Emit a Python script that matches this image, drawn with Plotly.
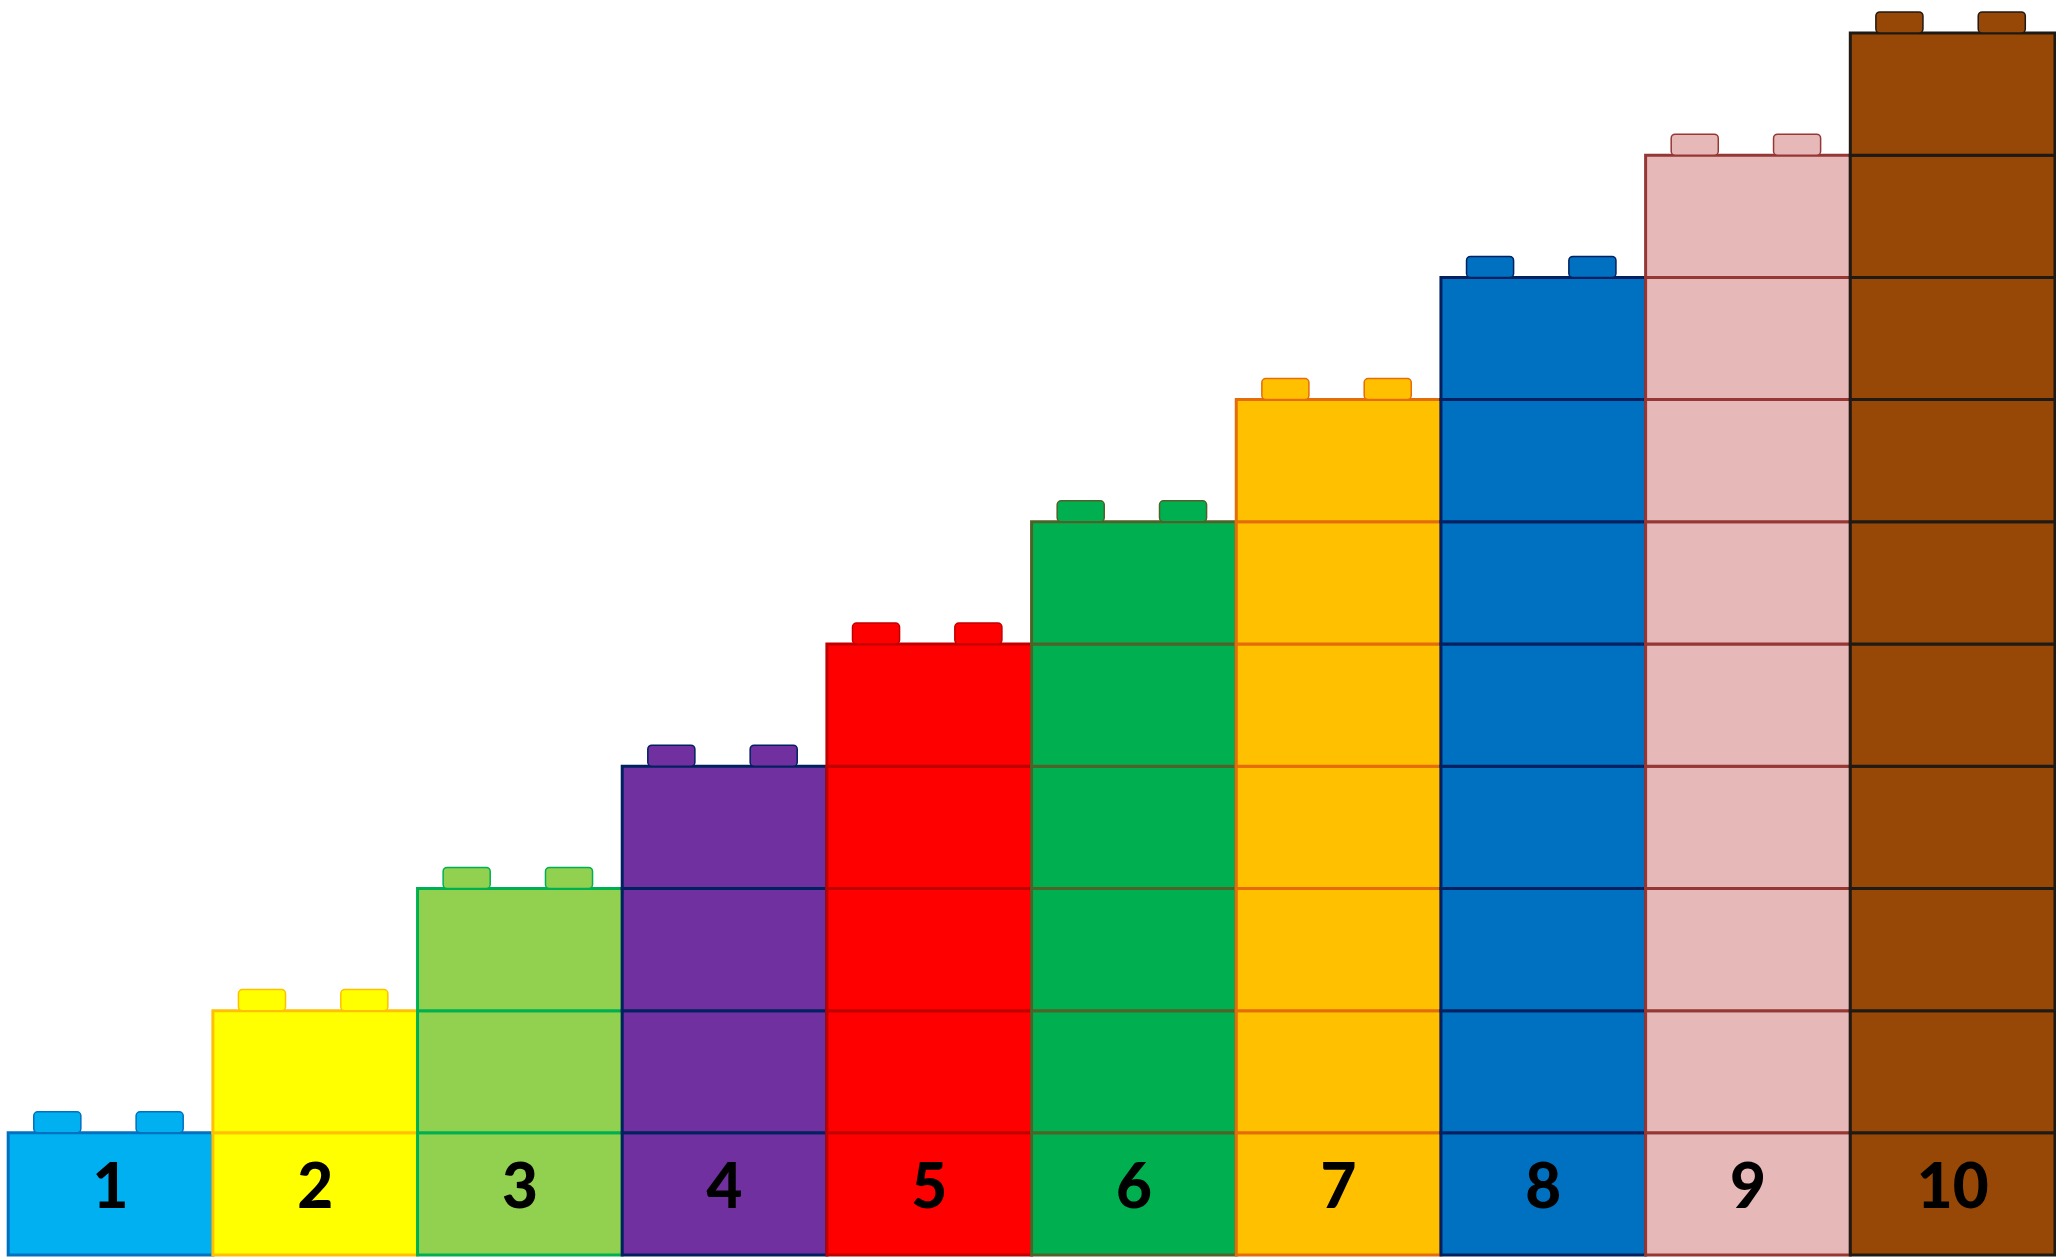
import plotly.graph_objects as go

# ---- data ----
categories = [1, 2, 3, 4, 5, 6, 7, 8, 9, 10]
heights = [1, 2, 3, 4, 5, 6, 7, 8, 9, 10]
labels = ["1", "2", "3", "4", "5", "6", "7", "8", "9", "10"]
fill_colors = ["#00B0F0", "#FFFF00", "#92D050", "#7030A0", "#FF0000",
               "#00B050", "#FFC000", "#0070C0", "#E6B8B7", "#974706"]
line_colors = ["#0070C0", "#FFC000", "#00B050", "#002060", "#C00000",
               "#4F6228", "#E46C0A", "#002060", "#953735", "#1F1A14"]

# ---- style constants ----
STUD_H = 0.172
STUD_W = 0.23
STUD_OFFSETS = [-0.375, 0.125]

fig = go.Figure()

for cat, h, fc, lc in zip(categories, heights, fill_colors, line_colors):
    # brick cells
    fig.add_trace(go.Bar(
        x=[cat] * h,
        y=[1] * h,
        base=list(range(h)),
        width=1,
        marker=dict(color=fc, line=dict(color=lc, width=3)),
        hoverinfo="skip",
        showlegend=False,
    ))
    # studs on top
    fig.add_trace(go.Bar(
        x=[cat, cat],
        y=[STUD_H, STUD_H],
        base=[h, h],
        width=[STUD_W, STUD_W],
        offset=STUD_OFFSETS,
        marker=dict(color=fc, line=dict(color=lc, width=1.5), cornerradius=4),
        hoverinfo="skip",
        showlegend=False,
    ))

fig.add_trace(go.Scatter(
    x=categories,
    y=[0.51] * len(categories),
    mode="text",
    text=labels,
    textfont=dict(family="Lato", size=62, color="black", weight=900),
    hoverinfo="skip",
    showlegend=False,
))

fig.update_layout(
    width=2056,
    height=1257,
    margin=dict(l=0, r=0, t=0, b=0),
    barmode="overlay",
    plot_bgcolor="white",
    paper_bgcolor="white",
    xaxis=dict(range=[0.46, 10.505], visible=False, fixedrange=True),
    yaxis=dict(range=[-0.016, 10.27], visible=False, fixedrange=True),
)

fig.write_html(
    "out.html",
    config={"displayModeBar": False},
    post_script="document.body.style.margin='0px';document.body.style.overflow='hidden';",
)
